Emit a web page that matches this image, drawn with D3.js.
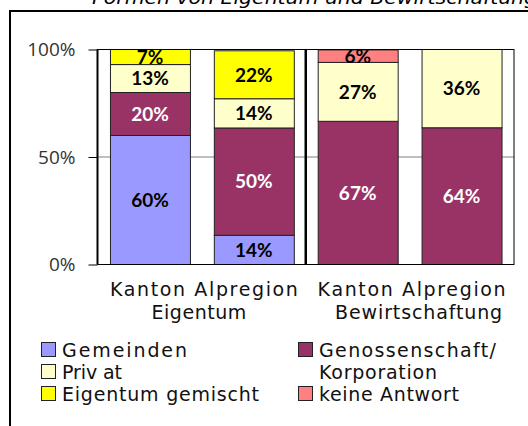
<!DOCTYPE html>
<html>
<head>
<meta charset="utf-8">
<script src="https://cdn.jsdelivr.net/npm/d3@7"></script>
<style>
  body { margin: 0; background: #fff; }
  svg { display: block; }
</style>
</head>
<body>
<svg id="chart" width="528" height="426"></svg>
<script>
// values, in percent
const categories = ['Kanton', 'Alpregion', 'Kanton ', 'Alpregion ']
const groups = ['Eigentum', 'Bewirtschaftung']
const keys = ['gemeinden', 'genossenschaft', 'privat', 'gemischt', 'keine']
const gemeinden = [60, 13.6, 0, 0]
const genossenschaft = [20, 49.9, 66.6, 63.6]
const privat = [13, 13.6, 27.4, 36.4]
const gemischt = [7, 22.3, 0, 0]
const keine = [0, 0, 5.8, 0]
const yTicks = [0, 50, 100]
const legendNames = ['Gemeinden', 'Genossenschaft/\nKorporation', 'Priv at', 'Eigentum gemischt', 'keine Antwort']
const colors = ['#9999ff', '#993366', '#ffffcc', '#ffff00', '#ff8080']
const labelColors = ['#000', '#fff', '#000', '#000', '#000']

const rows = categories.map((c, i) => ({
    cat: c,
    gemeinden: gemeinden[i],
    genossenschaft: genossenschaft[i],
    privat: privat[i],
    gemischt: gemischt[i],
    keine: keine[i]
}))

const svg = d3.select('#chart')
const plot = {left: 97.5, right: 514, top: 49.5, bottom: 264.5}

// outer frame, runs off the right and bottom edges
svg.append('rect')
    .attr('x', 10).attr('y', 11)
    .attr('width', 560).attr('height', 460)
    .attr('fill', 'none').attr('stroke', '#000').attr('stroke-width', 2)

svg.append('text')
    .attr('x', 92).attr('y', 4)
    .attr('font-family', 'DejaVu Sans').attr('font-style', 'italic')
    .attr('font-size', 18)
    .attr('textLength', 445).attr('lengthAdjust', 'spacingAndGlyphs')
    .text('Formen von Eigentum und Bewirtschaftung')

const x = d3.scaleBand()
    .domain(categories)
    .range([plot.left, plot.right])
    .paddingInner(0.23)
    .paddingOuter(0.12)

const y = d3.scaleLinear()
    .domain([0, 100])
    .range([plot.bottom, plot.top])

// gridline at 50%
svg.append('line')
    .attr('x1', plot.left).attr('x2', plot.right)
    .attr('y1', y(50)).attr('y2', y(50))
    .attr('stroke', '#808080').attr('stroke-width', 1)

const stacked = d3.stack().keys(keys)(rows)

const layers = svg.append('g')
    .selectAll('g')
    .data(stacked)
    .join('g')
    .attr('fill', (d, i) => colors[i])

layers.selectAll('rect')
    .data(d => d.filter(s => s[1] - s[0] > 0))
    .join('rect')
    .attr('x', d => x(d.data.cat) + 0.5)
    .attr('y', d => y(d[1]))
    .attr('width', x.bandwidth())
    .attr('height', d => y(d[0]) - y(d[1]))
    .attr('stroke', '#222').attr('stroke-width', 1)

layers.each(function (layer, li) {
    d3.select(this).selectAll('text')
        .data(layer.filter(s => s[1] - s[0] > 0))
        .join('text')
        .attr('x', d => x(d.data.cat) + x.bandwidth() / 2)
        .attr('y', d => y((d[0] + d[1]) / 2))
        .attr('dy', '0.36em')
        .attr('text-anchor', 'middle')
        .attr('font-family', 'Lato').attr('font-weight', 'bold')
        .attr('font-size', 19)
        .attr('fill', labelColors[li])
        .text(d => Math.round(d[1] - d[0]) + '%')
})

// plot box
svg.append('rect')
    .attr('x', plot.left).attr('y', plot.top)
    .attr('width', plot.right - plot.left).attr('height', plot.bottom - plot.top)
    .attr('fill', 'none').attr('stroke', '#000').attr('stroke-width', 1)

svg.append('line')
    .attr('x1', plot.left).attr('x2', plot.left)
    .attr('y1', plot.top).attr('y2', plot.bottom)
    .attr('stroke', '#000').attr('stroke-width', 2)

// separator between the two groups
const sepX = x(categories[2]) - x.step() * x.paddingInner() / 2
svg.append('line')
    .attr('x1', sepX).attr('x2', sepX)
    .attr('y1', plot.top).attr('y2', plot.bottom)
    .attr('stroke', '#000').attr('stroke-width', 2.5)

const yAxis = svg.append('g')
    .attr('transform', `translate(${plot.left},0)`)
    .call(d3.axisLeft(y).tickValues(yTicks).tickSize(9).tickPadding(13).tickFormat(d => d + '%'))
yAxis.select('.domain').remove()
yAxis.selectAll('line').attr('stroke', '#000')
yAxis.selectAll('text')
    .attr('font-family', 'Open Sans').attr('font-size', 19)
    .attr('fill', '#333')

// category labels, two lines per group
const groupCenters = [0, 1].map(g =>
    (x(categories[g * 2]) + x(categories[g * 2 + 1]) + x.bandwidth()) / 2)
const catLabel = svg.append('g')
    .attr('font-family', 'DejaVu Sans').attr('font-size', 19).attr('fill', '#111')
groupCenters.forEach((cx, g) => {
    catLabel.append('text')
        .attr('x', cx + 2).attr('y', 296)
        .attr('text-anchor', 'middle')
        .attr('textLength', 188).attr('lengthAdjust', 'spacing')
        .text(categories[g * 2].trim() + '  ' + categories[g * 2 + 1].trim())
    catLabel.append('text')
        .attr('x', g === 0 ? cx - 3 : cx + 9).attr('y', 319)
        .attr('text-anchor', 'middle')
        .attr('textLength', g === 0 ? 95 : 167).attr('lengthAdjust', 'spacing')
        .text(groups[g])
})

// legend
const legendPos = [
    {x: 41, y: 350, w: 125},
    {x: 298, y: 350, w: 177},
    {x: 41, y: 372, w: 60},
    {x: 41, y: 394, w: 197},
    {x: 298, y: 394, w: 140}
]
const legend = svg.append('g')
    .attr('font-family', 'DejaVu Sans').attr('font-size', 19).attr('fill', '#111')
legendNames.forEach((name, i) => {
    const p = legendPos[i]
    legend.append('rect')
        .attr('x', p.x + 0.5).attr('y', p.y - 7.5)
        .attr('width', 14).attr('height', 14)
        .attr('fill', colors[i]).attr('stroke', '#222')
    name.split('\n').forEach((line, k) => {
        legend.append('text')
            .attr('x', p.x + 21).attr('y', p.y + 7 + k * 22)
            .attr('textLength', k === 0 ? p.w : 118).attr('lengthAdjust', 'spacing')
            .text(line)
    })
})
</script>
</body>
</html>
